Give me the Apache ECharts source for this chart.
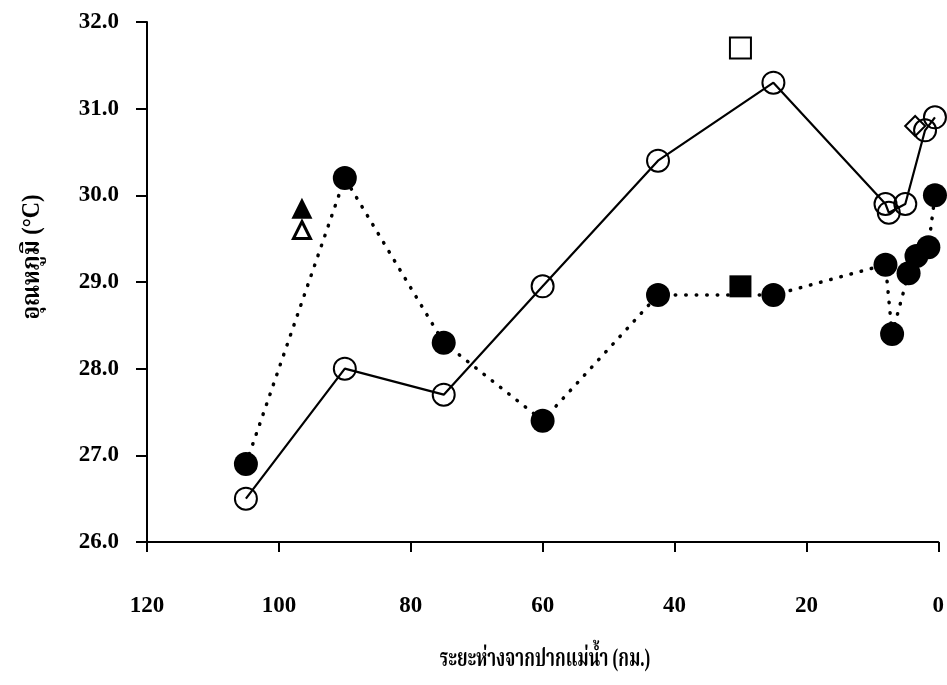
<!DOCTYPE html>
<html>
<head>
<meta charset="utf-8">
<script src="https://cdn.jsdelivr.net/npm/echarts@6/dist/echarts.min.js"></script>
<style>
  html, body { margin: 0; padding: 0; background: #fff; }
  #chart { width: 947px; height: 685px; }
</style>
</head>
<body>
<div id="chart"></div>
<script>
// Distance from the river mouth (km) and water temperature (°C)
const xTicks = [0, 20, 40, 60, 80, 100, 120];
const yTicks = [26, 27, 28, 29, 30, 31, 32];

// Open circles, joined by a solid line
const distOpen = [105, 90, 75, 60, 42.5, 25, 8, 7.5, 5, 2, 0.5];
const tempOpen = [26.5, 28.0, 27.7, 28.95, 30.4, 31.3, 29.9, 29.8, 29.9, 30.75, 30.9];

// Filled circles, joined by a dotted line
const distFilled = [105, 90, 75, 60, 42.5, 25, 8, 7, 4.5, 3.3, 1.5, 0.5];
const tempFilled = [26.9, 30.2, 28.3, 27.4, 28.85, 28.85, 29.2, 28.4, 29.1, 29.3, 29.4, 30.0];

// Single stations
const distSquare = [30];
const tempSquareOpen = [31.7];
const tempSquareFilled = [28.95];
const distTriangle = [96.5];
const tempTriangleFilled = [29.85];
const tempTriangleOpen = [29.6];
const distDiamond = [3.5];
const tempDiamond = [30.8];

const pairs = (xs, ys) => xs.map((x, i) => [x, ys[i]]);

const FONT = '"Liberation Serif", "Noto Serif Thai", "Noto Sans Thai", "DejaVu Serif", serif';
const hollow = { color: 'rgba(0,0,0,0)', borderColor: '#000', borderWidth: 2, opacity: 1 };
const solid = { color: '#000', opacity: 1 };

const chart = echarts.init(document.getElementById('chart'), null, { renderer: 'canvas' });

chart.setOption({
  animation: false,
  backgroundColor: '#fff',
  grid: { left: 147, right: 7, top: 22, bottom: 143, containLabel: false },
  xAxis: {
    type: 'value',
    inverse: true,
    min: xTicks[0],
    max: xTicks[xTicks.length - 1],
    interval: 20,
    axisLine: { onZero: false, lineStyle: { color: '#000', width: 2 } },
    axisTick: { show: true, inside: false, length: 10, lineStyle: { color: '#000', width: 2 } },
    axisLabel: { margin: 53, fontFamily: FONT, fontSize: 23, fontWeight: 'bold', color: '#000' },
    splitLine: { show: false }
  },
  yAxis: {
    type: 'value',
    min: yTicks[0],
    max: yTicks[yTicks.length - 1],
    interval: 1,
    axisLine: { show: true, onZero: false, lineStyle: { color: '#000', width: 2 } },
    axisTick: { show: true, inside: false, length: 11, lineStyle: { color: '#000', width: 2 } },
    axisLabel: {
      margin: 28, fontFamily: FONT, fontSize: 23, fontWeight: 'bold', color: '#000',
      formatter: v => v.toFixed(1)
    },
    splitLine: { show: false }
  },
  graphic: [
    {
      // y-axis title, reading bottom to top
      type: 'text',
      x: 33,
      y: 257,
      rotation: Math.PI / 2,
      scaleX: 0.9,
      style: {
        text: 'อุณหภูมิ (°C)',
        font: 'bold 25px ' + FONT,
        fill: '#000',
        align: 'center',
        verticalAlign: 'middle'
      }
    },
    {
      // x-axis title
      type: 'text',
      x: 545,
      y: 660,
      scaleX: 0.68,
      style: {
        text: 'ระยะห่างจากปากแม่น้ำ (กม.)',
        font: 'bold 25px ' + FONT,
        fill: '#000',
        align: 'center',
        verticalAlign: 'middle'
      }
    }
  ],
  series: [
    {
      type: 'line',
      data: pairs(distFilled, tempFilled),
      symbol: 'circle',
      symbolSize: 24,
      clip: false,
      itemStyle: solid,
      lineStyle: { color: '#000', width: 3.5, type: [0.5, 10], cap: 'round' },
      z: 3
    },
    {
      type: 'line',
      data: pairs(distOpen, tempOpen),
      symbol: 'circle',
      symbolSize: 22,
      clip: false,
      itemStyle: hollow,
      lineStyle: { color: '#000', width: 2.2 },
      z: 4
    },
    {
      type: 'scatter',
      data: pairs(distSquare, tempSquareOpen),
      symbol: 'rect',
      symbolSize: 21,
      clip: false,
      itemStyle: hollow,
      z: 5
    },
    {
      type: 'scatter',
      data: pairs(distSquare, tempSquareFilled),
      symbol: 'rect',
      symbolSize: 22,
      clip: false,
      itemStyle: solid,
      z: 5
    },
    {
      type: 'scatter',
      data: pairs(distTriangle, tempTriangleFilled),
      symbol: 'triangle',
      symbolSize: 21,
      clip: false,
      itemStyle: solid,
      z: 5
    },
    {
      type: 'scatter',
      data: pairs(distTriangle, tempTriangleOpen),
      symbol: 'triangle',
      symbolSize: 17,
      clip: false,
      itemStyle: { color: 'rgba(0,0,0,0)', borderColor: '#000', borderWidth: 3, opacity: 1 },
      z: 5
    },
    {
      type: 'scatter',
      data: pairs(distDiamond, tempDiamond),
      symbol: 'diamond',
      symbolSize: [20, 20],
      clip: false,
      itemStyle: hollow,
      z: 5
    }
  ]
});
</script>
</body>
</html>
